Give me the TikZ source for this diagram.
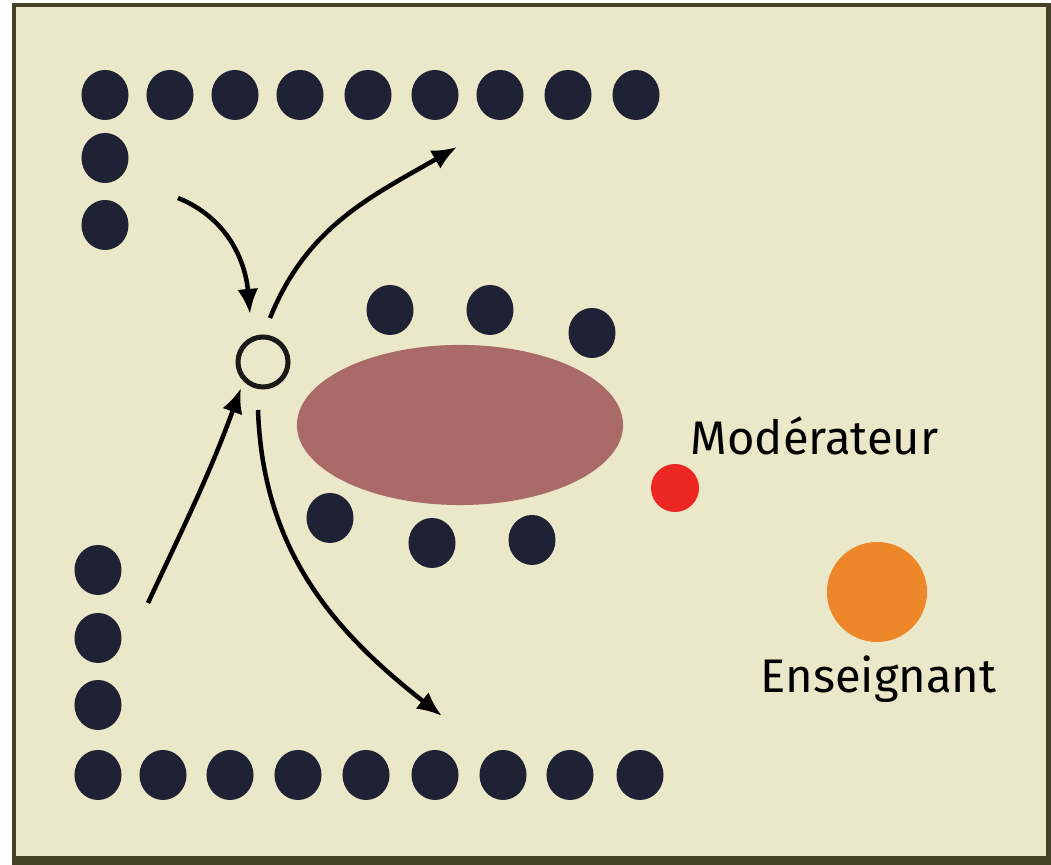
\documentclass[tikz,border=0pt]{standalone}
\usepackage{fontspec}
\setmainfont{Fira Sans}
\usetikzlibrary{arrows.meta,shapes.geometric}
\definecolor{paper}{RGB}{234,232,201}
\definecolor{frame}{RGB}{70,66,40}
\definecolor{seatblue}{RGB}{30,34,52}
\definecolor{tablerose}{RGB}{170,106,104}
\definecolor{modred}{RGB}{236,40,36}
\definecolor{teachorange}{RGB}{238,134,42}
\tikzset{
    seat/.style = {ellipse, fill=seatblue, minimum width=0.47cm, minimum height=0.50cm, inner sep=0pt},
    move/.style = {line width=0.045cm, -{Latex[length=0.25cm, width=0.21cm]}},
    label/.style = {font=\fontsize{13.4}{16}\selectfont, inner sep=0pt}
}
\begin{document}
\begin{tikzpicture}[x=0.01cm, y=-0.01cm]
    \useasboundingbox (0,0) rectangle (1051,865);
    \fill[white] (0,0) rectangle (1051,865);
    \fill[frame] (12,3) rectangle (1051,865);
    \fill[paper] (16,7) rectangle (1046,856);
    % rangees de sieges
    \foreach \x [count=\i] in {105,170,235,300,368,435,500,568,636}{
        \node[seat] (top\i) at (\x,95) {};
    }
    \foreach \x [count=\i] in {98,163,230,298,366,435,503,570,640}{
        \node[seat] (bot\i) at (\x,775) {};
    }
    \foreach \y [count=\i] in {158,225}{
        \node[seat] (up\i) at (105,\y) {};
    }
    \foreach \y [count=\i] in {570,638,705}{
        \node[seat] (low\i) at (98,\y) {};
    }
    % table et groupe
    \node[ellipse, fill=tablerose, minimum width=3.26cm, minimum height=1.6cm, inner sep=0pt] (table) at (460,425) {};
    \foreach \x/\y [count=\i] in {390/310, 490/310, 592/333}{
        \node[seat] (gtop\i) at (\x,\y) {};
    }
    \foreach \x/\y [count=\i] in {330/518, 432/543, 532/540}{
        \node[seat] (gbot\i) at (\x,\y) {};
    }
    \node[circle, draw=black!90, line width=0.05cm, minimum size=0.5cm, inner sep=0pt] (chair) at (263,362) {};
    % animateurs
    \node[circle, fill=modred, minimum size=0.48cm, inner sep=0pt] (mod) at (675,488) {};
    \node[circle, fill=teachorange, minimum size=1.0cm, inner sep=0pt] (teach) at (877,592) {};
    \node[label, anchor=base west] (modlabel) at (690,455) {Modérateur};
    \node[label, anchor=base west] (teachlabel) at (760,693) {Enseignant};
    % fleches
    \coordinate (in1) at (178,198);
    \coordinate (in1end) at (250,314);
    \coordinate (out1) at (270,318);
    \coordinate (out1end) at (457,147);
    \coordinate (in2) at (148,603);
    \coordinate (in2end) at (241,388);
    \coordinate (out2) at (258,410);
    \coordinate (out2end) at (442,716);
    \draw[move] (in1) to[out=-22, in=95] (in1end);
    \draw[move] (out1) to[out=68, in=210] (out1end);
    \draw[move] (in2) to[out=65, in=250] (in2end);
    \draw[move] (out2) to[out=-88, in=142] (out2end);
\end{tikzpicture}
\end{document}
